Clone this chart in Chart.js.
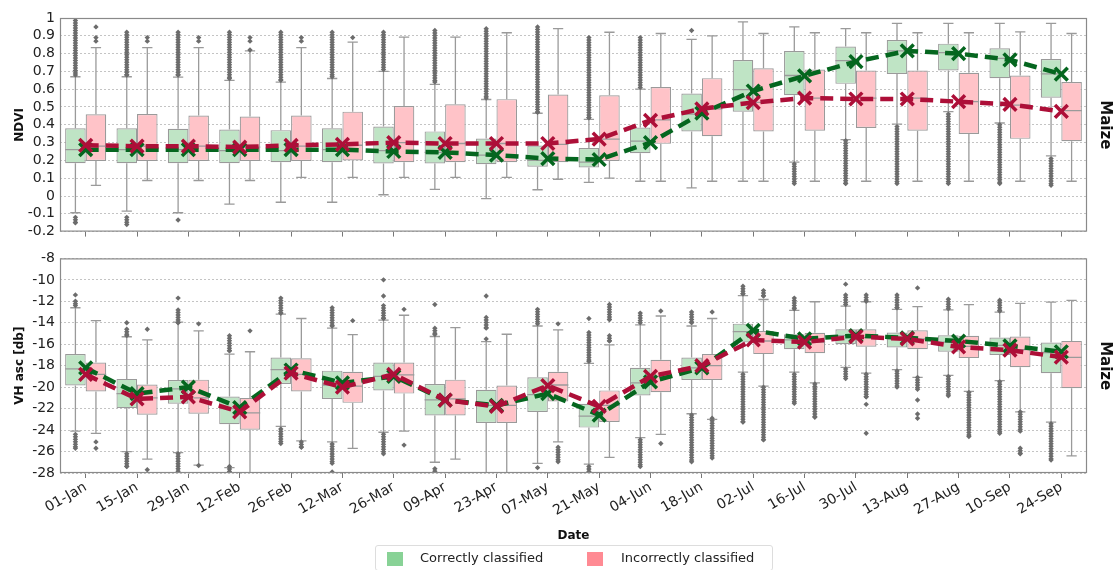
<!DOCTYPE html>
<html>
<head>
<meta charset="utf-8">
<script src="https://cdn.jsdelivr.net/npm/chart.js@4.4.1/dist/chart.umd.min.js"></script>
<style>
  body { margin: 0; background: #fff; font-family: "DejaVu Sans", sans-serif; }
  #wrap { position: relative; width: 1115px; height: 570px; overflow: hidden; }
  #topChart { position: absolute; left: 0; top: 0; }
  #botChart { position: absolute; left: 0; top: 245px; }
  #legend { position: absolute; left: 375px; top: 545px; width: 398px; height: 26px;
            border: 1px solid #ddd; border-radius: 3px; box-sizing: border-box;
            font-size: 13px; color: #222; }
  .sw { position: absolute; top: 6px; width: 16px; height: 14px; }
  .lt { position: absolute; top: 4px; white-space: nowrap; }
</style>
</head>
<body>
<div id="wrap">
  <canvas id="topChart" width="1115" height="245"></canvas>
  <canvas id="botChart" width="1115" height="303"></canvas>
  <div id="legend">
    <span class="sw" style="left:11px;background:#88d296"></span>
    <span class="lt" style="left:44px">Correctly classified</span>
    <span class="sw" style="left:211px;background:#ff8a93"></span>
    <span class="lt" style="left:245px">Incorrectly classified</span>
  </div>
</div>
<script>
const dates = ['01-Jan', '15-Jan', '29-Jan', '12-Feb', '26-Feb', '12-Mar', '26-Mar', '09-Apr', '23-Apr', '07-May',
  '21-May', '04-Jun', '18-Jun', '02-Jul', '16-Jul', '30-Jul', '13-Aug', '27-Aug', '10-Sep', '24-Sep'];

// NDVI - correctly classified
const ndviGreenQ1 = [0.184, 0.184, 0.184, 0.184, 0.19, 0.19, 0.183, 0.183, 0.179, 0.164, 0.16, 0.24, 0.363, 0.474, 0.566, 0.63, 0.686, 0.705, 0.662, 0.552];
const ndviGreenQ3 = [0.38, 0.38, 0.378, 0.373, 0.37, 0.38, 0.39, 0.363, 0.323, 0.284, 0.27, 0.385, 0.576, 0.764, 0.815, 0.84, 0.876, 0.856, 0.83, 0.77];
const ndviGreenMed = [0.26, 0.26, 0.26, 0.255, 0.255, 0.26, 0.255, 0.245, 0.23, 0.2, 0.19, 0.308, 0.46, 0.598, 0.677, 0.76, 0.815, 0.806, 0.773, 0.686];
const ndviGreenLow = [-0.094, -0.085, -0.094, -0.046, -0.035, -0.035, 0.007, 0.037, -0.015, 0.035, 0.077, 0.083, 0.046, 0.083, 0.19, 0.317, 0.404, 0.474, 0.41, 0.225];
const ndviGreenHigh = [0.67, 0.67, 0.668, 0.65, 0.64, 0.66, 0.7, 0.627, 0.542, 0.465, 0.43, 0.6, 0.88, 0.978, 0.95, 0.94, 0.97, 0.97, 0.97, 0.97];
const ndviGreenMean = [0.26, 0.26, 0.26, 0.26, 0.26, 0.26, 0.25, 0.245, 0.23, 0.21, 0.205, 0.3, 0.465, 0.59, 0.675, 0.755, 0.815, 0.8, 0.765, 0.685];
// single numbers are single outliers, pairs are dense runs of outliers
const ndviGreenOut = [
  [[0.68, 1.0], [-0.15, -0.12]], [[0.68, 0.92], [-0.16, -0.12]], [[0.68, 0.92], -0.135], [[0.66, 0.92]], [[0.65, 0.92]],
  [[0.67, 0.92]], [[0.71, 0.92]], [[0.64, 0.93]], [[0.55, 0.94]], [[0.47, 0.95]],
  [[0.44, 0.89]], [[0.61, 0.89]], [0.93], [], [[0.07, 0.18]],
  [[0.07, 0.31]], [[0.07, 0.39]], [[0.07, 0.46]], [[0.07, 0.4]], [[0.06, 0.21]]
];

// NDVI - incorrectly classified
const ndviRedQ1 = [0.197, 0.197, 0.197, 0.197, 0.197, 0.2, 0.19, 0.19, 0.19, 0.19, 0.197, 0.293, 0.336, 0.363, 0.367, 0.382, 0.367, 0.349, 0.321, 0.308];
const ndviRedQ3 = [0.459, 0.46, 0.452, 0.447, 0.452, 0.474, 0.505, 0.515, 0.544, 0.57, 0.566, 0.612, 0.662, 0.718, 0.71, 0.705, 0.705, 0.692, 0.677, 0.64];
const ndviRedMed = [0.28, 0.28, 0.28, 0.275, 0.28, 0.285, 0.3, 0.295, 0.295, 0.29, 0.32, 0.428, 0.49, 0.526, 0.55, 0.55, 0.55, 0.53, 0.51, 0.48];
const ndviRedLow = [0.06, 0.087, 0.087, 0.087, 0.105, 0.105, 0.105, 0.105, 0.105, 0.094, 0.1, 0.083, 0.083, 0.083, 0.083, 0.083, 0.083, 0.083, 0.083, 0.083];
const ndviRedHigh = [0.834, 0.834, 0.834, 0.815, 0.834, 0.865, 0.893, 0.893, 0.917, 0.94, 0.92, 0.913, 0.9, 0.913, 0.917, 0.917, 0.917, 0.917, 0.922, 0.913];
const ndviRedMean = [0.285, 0.28, 0.28, 0.275, 0.285, 0.29, 0.3, 0.295, 0.295, 0.295, 0.32, 0.425, 0.49, 0.525, 0.55, 0.545, 0.545, 0.53, 0.515, 0.475];
const ndviRedOut = [
  [0.87, 0.89, 0.95], [0.87, 0.89], [0.87, 0.89], [0.82, 0.87, 0.89], [0.87, 0.89],
  [0.89], [], [], [], [], [], [], [], [], [], [], [], [], [], []
];

// VH asc - correctly classified
const vhGreenQ1 = [-19.85, -21.95, -21.55, -23.46, -19.7, -21.1, -20.3, -22.63, -23.34, -22.32, -23.77, -20.78, -19.33, -15.84, -16.46, -16.0, -16.3, -16.7, -17.0, -18.7];
const vhGreenQ3 = [-16.92, -19.23, -19.33, -20.87, -17.23, -18.46, -17.7, -19.7, -20.25, -19.08, -21.55, -18.2, -17.23, -14.08, -15.07, -14.6, -14.9, -15.16, -15.38, -15.84];
const vhGreenMed = [-18.3, -20.6, -20.16, -22.0, -18.37, -19.8, -19.0, -21.18, -21.7, -20.7, -22.7, -19.6, -18.2, -14.82, -15.6, -15.2, -15.5, -15.8, -16.1, -16.77];
const vhGreenLow = [-24.1, -26.0, -26.1, -27.5, -23.65, -25.1, -24.2, -27.0, -28.0, -27.1, -27.17, -24.7, -22.48, -18.6, -18.6, -18.15, -18.37, -18.9, -19.4, -23.25];
const vhGreenHigh = [-12.6, -15.3, -13.93, -16.92, -13.2, -14.5, -13.75, -15.28, -15.75, -14.3, -17.78, -14.2, -14.3, -11.46, -12.85, -12.44, -12.75, -12.8, -13.0, -12.07];
const vhGreenMean = [-18.2, -20.6, -20.0, -21.9, -18.4, -19.6, -19.0, -21.2, -21.7, -20.6, -22.6, -19.5, -18.2, -14.7, -15.5, -15.2, -15.4, -15.7, -16.15, -16.7];
const vhGreenOut = [
  [-11.4, [-12.4, -12.0], [-25.7, -24.4]], [-14.0, [-15.2, -14.6], [-27.4, -26.2]], [-11.7, [-14.0, -12.8], [-28, -26.2]],
  [[-16.6, -15.2], [-28, -27.4]], [[-13.1, -11.7], [-25.25, -23.9]], [[-14.3, -12.6], [-27.1, -25.3], -27.9],
  [-10.0, -11.5, [-13.6, -12.4], [-26.2, -24.4]], [-12.3, [-15.1, -14.5], [-28, -27.6]], [-11.5, [-14.5, -13.5], -15.5],
  [[-14.1, -12.75], -27.5], [-13.6, [-17.6, -14.9], [-28, -27.4]], [[-14.0, -13.1], [-27.4, -24.9]],
  [[-14.0, -13.0], [-26.95, -22.6]], [[-11.3, -10.6], [-23.25, -18.8]], [[-12.7, -11.7], [-21.5, -18.8]],
  [-10.4, [-12.3, -11.4], [-19.2, -18.3]], [[-12.6, -11.4], [-20.0, -18.5]], [[-12.7, -11.8], [-20.8, -19.0]],
  [[-12.9, -11.9], [-24.3, -19.5]], [[-26.8, -23.4]]
];

// VH asc - incorrectly classified
const vhRedQ1 = [-20.4, -22.57, -22.48, -23.96, -20.4, -21.46, -20.6, -22.63, -23.34, -21.33, -23.25, -20.47, -19.33, -16.92, -16.83, -16.24, -16.46, -17.29, -18.15, -20.1];
const vhRedQ3 = [-17.7, -19.76, -19.3, -21.0, -17.3, -18.56, -17.7, -19.3, -19.85, -18.56, -20.3, -17.44, -16.92, -14.76, -14.94, -14.6, -14.7, -15.22, -15.28, -15.69];
const vhRedMed = [-18.8, -21.0, -21.0, -22.4, -18.8, -19.9, -18.86, -21.1, -21.7, -19.8, -21.7, -19.0, -18.0, -15.7, -15.8, -15.38, -15.5, -16.2, -16.5, -17.23];
const vhRedLow = [-24.3, -26.7, -27.26, -28.0, -25.0, -25.7, -24.1, -26.7, -28.0, -25.1, -26.55, -24.4, -23.0, -19.9, -19.6, -18.7, -19.08, -20.4, -22.3, -26.4];
const vhRedHigh = [-13.8, -15.6, -14.76, -16.7, -13.6, -15.1, -13.3, -14.45, -15.07, -14.67, -16.05, -13.37, -13.6, -11.83, -12.04, -12.04, -12.5, -12.3, -12.2, -11.92];
const vhRedMean = [-18.8, -21.1, -20.9, -22.3, -18.7, -20.0, -18.8, -21.2, -21.8, -19.85, -21.8, -19.0, -18.0, -15.6, -15.8, -15.3, -15.5, -16.25, -16.55, -17.2];
const vhRedOut = [
  [-25.1, -25.7], [-14.6, -27.7], [-14.1, -27.3], [-14.75], [[-25.6, -25.1]],
  [-13.8], [-12.75, -25.4], [], [], [-14.1, [-26.95, -25.6]],
  [[-13.7, -12.3], [-15.7, -15.2]], [-12.9, -25.25], [-13.0, [-26.6, -22.9]], [[-11.5, -11.0], [-24.9, -20.0]], [[-22.8, -19.7]],
  [[-12.0, -11.4], [-20.9, -18.8], -21.6, -24.3], [-10.75, [-20.2, -19.1], -21.2, -22.5, -22.9], [[-24.6, -20.5]],
  [[-24.1, -22.3], [-26.2, -25.7]], []
];

const GREEN_BOX = '#bfe4c5';
const RED_BOX = '#ffc3c8';
const GREEN_LINE = '#05661f';
const RED_LINE = '#ad0f38';
const BOX_EDGE = '#9a9a9a';
const OUT_COLOR = '#6c6c6c';

Chart.defaults.font.family = "'DejaVu Sans', sans-serif";
Chart.defaults.color = '#222';

function diamond(ctx, x, y, r) {
  ctx.beginPath();
  ctx.moveTo(x, y - r);
  ctx.lineTo(x + r, y);
  ctx.lineTo(x, y + r);
  ctx.lineTo(x - r, y);
  ctx.closePath();
  ctx.fill();
}

// whiskers, caps, medians and outliers drawn on top of each box dataset
const boxExtras = {
  id: 'boxExtras',
  afterDatasetDraw(chart, args) {
    const ds = chart.data.datasets[args.index];
    if (!ds.box) return;
    const b = ds.box;
    const ctx = chart.ctx;
    const y = chart.scales.y;
    const area = chart.chartArea;
    ctx.save();
    ctx.beginPath();
    ctx.rect(area.left, area.top, area.right - area.left, area.bottom - area.top);
    ctx.clip();
    args.meta.data.forEach((bar, i) => {
      const x = bar.x, w = bar.width;
      const yq1 = y.getPixelForValue(b.q1[i]);
      const yq3 = y.getPixelForValue(b.q3[i]);
      const ylo = y.getPixelForValue(b.low[i]);
      const yhi = y.getPixelForValue(b.high[i]);
      const ymed = y.getPixelForValue(b.med[i]);
      ctx.strokeStyle = BOX_EDGE;
      ctx.lineWidth = 1.3;
      ctx.beginPath();
      ctx.moveTo(x, yq3); ctx.lineTo(x, yhi);
      ctx.moveTo(x, yq1); ctx.lineTo(x, ylo);
      ctx.moveTo(x - w / 4, yhi); ctx.lineTo(x + w / 4, yhi);
      ctx.moveTo(x - w / 4, ylo); ctx.lineTo(x + w / 4, ylo);
      ctx.moveTo(x - w / 2, ymed); ctx.lineTo(x + w / 2, ymed);
      ctx.stroke();
      ctx.fillStyle = OUT_COLOR;
      b.out[i].forEach(o => {
        if (Array.isArray(o)) {
          const ya = y.getPixelForValue(o[0]);
          const yb = y.getPixelForValue(o[1]);
          const top = Math.min(ya, yb), bot = Math.max(ya, yb);
          for (let p = top; p <= bot; p += 2.5) diamond(ctx, x, p, 2.7);
          diamond(ctx, x, bot, 2.7);
        } else {
          diamond(ctx, x, y.getPixelForValue(o), 2.7);
        }
      });
    });
    ctx.restore();
  },
  afterDraw(chart) {
    const ctx = chart.ctx;
    const a = chart.chartArea;
    ctx.save();
    ctx.strokeStyle = '#8a8a8a';
    ctx.lineWidth = 1.2;
    ctx.strokeRect(a.left + 0.5, a.top + 0.5, a.right - a.left - 1, a.bottom - a.top - 1);
    ctx.translate(a.right + 18, (a.top + a.bottom) / 2);
    ctx.rotate(Math.PI / 2);
    ctx.fillStyle = '#111';
    ctx.font = "bold 15px 'DejaVu Sans', sans-serif";
    ctx.textAlign = 'center';
    ctx.textBaseline = 'middle';
    ctx.fillText('Maize', 0, 0);
    ctx.restore();
  }
};

function meanLine(values, color) {
  return {
    type: 'line', data: values, borderColor: color, borderWidth: 4.5, borderDash: [13, 7],
    pointStyle: 'crossRot', pointRadius: 9, pointBorderWidth: 3.5, pointBorderColor: color,
    pointBackgroundColor: color, fill: false, tension: 0, order: 0
  };
}

function boxSet(box, fill) {
  return {
    type: 'bar', data: box.q1.map((v, i) => [v, box.q3[i]]), backgroundColor: fill,
    borderColor: BOX_EDGE, borderWidth: 1.2, borderSkipped: false,
    categoryPercentage: 0.8, barPercentage: 1.0, box: box, order: 1
  };
}

function makeChart(id, green, red, yOpts, bottom) {
  return new Chart(document.getElementById(id), {
    data: {
      labels: dates,
      datasets: [
        meanLine(red.mean, RED_LINE),
        meanLine(green.mean, GREEN_LINE),
        boxSet(green, GREEN_BOX),
        boxSet(red, RED_BOX)
      ]
    },
    options: {
      responsive: false,
      animation: false,
      layout: { padding: { top: bottom ? 12 : 18, right: 28, left: 0, bottom: 0 } },
      plugins: { legend: { display: false }, tooltip: { enabled: false } },
      scales: {
        x: {
          offset: true,
          grid: { drawOnChartArea: false, offset: false, tickLength: 5, color: '#777' },
          border: { display: false },
          ticks: bottom
            ? { display: true, autoSkip: false, minRotation: 30, maxRotation: 30, font: { size: 14 }, padding: 1 }
            : { display: false },
          title: bottom
            ? { display: true, text: 'Date', font: { size: 12, weight: 'bold' }, color: '#111', padding: { top: 0, bottom: 5 } }
            : { display: false },
          afterFit(s) { s.height = bottom ? 75 : 10; }
        },
        y: {
          min: yOpts.min, max: yOpts.max,
          ticks: { stepSize: yOpts.step, autoSkip: false, font: { size: 14 }, padding: 5,
                   callback: v => String(Math.round(v * 10) / 10) },
          grid: { color: '#c4c4c4', drawTicks: false },
          border: { display: false, dash: [2, 2] },
          title: { display: true, text: yOpts.title, font: { size: 12, weight: 'bold' }, color: '#111',
                   padding: { top: 13, bottom: 0 } },
          afterFit(s) { s.width = 60; }
        }
      }
    },
    plugins: [boxExtras]
  });
}

const ndviGreen = { q1: ndviGreenQ1, q3: ndviGreenQ3, med: ndviGreenMed, low: ndviGreenLow, high: ndviGreenHigh, mean: ndviGreenMean, out: ndviGreenOut };
const ndviRed = { q1: ndviRedQ1, q3: ndviRedQ3, med: ndviRedMed, low: ndviRedLow, high: ndviRedHigh, mean: ndviRedMean, out: ndviRedOut };
const vhGreen = { q1: vhGreenQ1, q3: vhGreenQ3, med: vhGreenMed, low: vhGreenLow, high: vhGreenHigh, mean: vhGreenMean, out: vhGreenOut };
const vhRed = { q1: vhRedQ1, q3: vhRedQ3, med: vhRedMed, low: vhRedLow, high: vhRedHigh, mean: vhRedMean, out: vhRedOut };

makeChart('topChart', ndviGreen, ndviRed, { min: -0.2, max: 1, step: 0.1, title: 'NDVI' }, false);
makeChart('botChart', vhGreen, vhRed, { min: -28, max: -8, step: 2, title: 'VH asc [db]' }, true);
</script>
</body>
</html>
